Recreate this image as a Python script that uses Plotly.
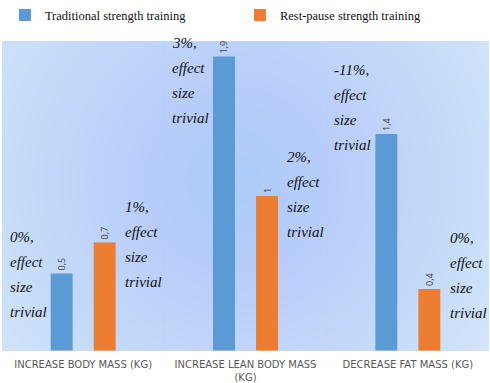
import plotly.graph_objects as go

categories = ["INCREASE BODY MASS (KG)", "INCREASE LEAN BODY MASS<br>(KG)", "DECREASE FAT MASS (KG)"]
traditional = [0.5, 1.9, 1.4]
rest_pause = [0.7, 1.0, 0.4]
traditional_text = ["0,5", "1,9", "1,4"]
rest_pause_text = ["0,7", "1", "0,4"]
traditional_pct = ["0%,", "3%,", "-11%,"]
rest_pause_pct = ["1%,", "2%,", "0%,"]
effect_lines = ["effect", "size", "trivial"]

# style: first-line vertical position of each note (data units)
trad_note_y = [0.735, 1.985, 1.81]
rest_note_y = [0.93, 1.25, 0.728]

BLUE = "#5B9BD5"
ORANGE = "#ED7D31"
xi = list(range(len(categories)))

fig = go.Figure()
fig.add_trace(go.Bar(
    x=xi, y=traditional, name="Traditional strength training",
    marker=dict(color=BLUE, line=dict(width=0)),
    text=traditional_text, textposition="outside", textangle=-90,
    textfont=dict(family="Open Sans", size=9, color="#404040"),
    cliponaxis=False,
))
fig.add_trace(go.Bar(
    x=xi, y=rest_pause, name="Rest-pause strength training",
    marker=dict(color=ORANGE, line=dict(width=0)),
    text=rest_pause_text, textposition="outside", textangle=-90,
    textfont=dict(family="Open Sans", size=9, color="#404040"),
    cliponaxis=False,
))

shapes = []
# radial gradient background made of concentric ellipses
cx, cy = 0.95, 1.1
N = 40
for k in range(N):
    r = 340 * (1 - k / N)
    shapes.append(dict(
        type="circle", xref="x", yref="y", layer="below",
        x0=cx - r / 163, x1=cx + r / 163, y0=cy - r / 155, y1=cy + r / 155,
        fillcolor="rgba(140,180,238,0.019)", line=dict(width=0),
    ))
for xv in [-0.5, 0.5, 1.5]:
    shapes.append(dict(type="line", xref="x", yref="paper", x0=xv, x1=xv, y0=0, y1=1,
                       line=dict(color="rgba(225,232,242,0.9)", width=1), layer="below"))
shapes.append(dict(type="line", xref="paper", yref="y", x0=0, x1=1, y0=0, y1=0,
                   line=dict(color="#D9D9D9", width=1)))

annotations = []
step = 0.161
note_font = dict(family="Liberation Serif", size=15, color="#111111")
for i in xi:
    for series, pct, ys, dx in [(0, traditional_pct, trad_note_y, -0.465), (1, rest_pause_pct, rest_note_y, 0.245)]:
        lines = [pct[i]] + effect_lines
        for j, t in enumerate(lines):
            annotations.append(dict(
                x=i + dx, y=ys[i] - j * step, xref="x", yref="y",
                text="<i>" + t + "</i>", showarrow=False, xanchor="left", yanchor="middle",
                font=note_font,
            ))

fig.update_layout(
    width=490, height=383,
    margin=dict(l=2, r=1, t=41, b=32, autoexpand=False),
    paper_bgcolor="white",
    plot_bgcolor="rgb(222,234,249)",
    barmode="group", bargap=0.47, bargroupgap=0.49,
    showlegend=True,
    legend=dict(orientation="h", x=0.006, xanchor="left", y=1.083, yanchor="middle",
                entrywidth=190, entrywidthmode="pixels",
                font=dict(family="Liberation Serif", size=12.5, color="#111111"),
                itemwidth=30, traceorder="normal", bgcolor="rgba(0,0,0,0)"),
    shapes=shapes,
    annotations=annotations,
)
fig.update_xaxes(
    tickmode="array", tickvals=xi, ticktext=categories,
    range=[-0.5, 2.5], showgrid=False, zeroline=False, showline=False, ticks="",
    tickfont=dict(family="DejaVu Sans", size=10, color="#595959"),
    ticklabelstandoff=6,
)
fig.update_yaxes(range=[0, 2.0], showgrid=False, zeroline=False, showticklabels=False, ticks="")

fig.write_html("out.html", config={"displayModeBar": False},
               post_script="document.body.style.margin='0';")
